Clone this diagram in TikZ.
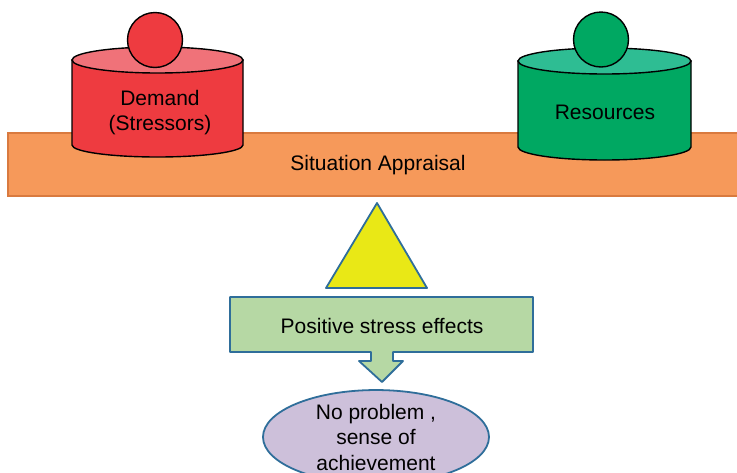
\documentclass[tikz,border=0pt]{standalone}
\usepackage{fontspec}
\setmainfont{Liberation Sans}
\usetikzlibrary{shapes.geometric}
\definecolor{barfill}{HTML}{F6995A}
\definecolor{barline}{HTML}{D97A3F}
\definecolor{redbody}{HTML}{EE3B40}
\definecolor{redtop}{HTML}{F07279}
\definecolor{greenbody}{HTML}{00A862}
\definecolor{greentop}{HTML}{2EBD93}
\definecolor{tryellow}{HTML}{E9E816}
\definecolor{edgeblue}{HTML}{2F6E9A}
\definecolor{boxgreen}{HTML}{B6D8A4}
\definecolor{lilac}{HTML}{CDC0DA}
\tikzset{
  lbl/.style={font=\fontsize{21}{25.5}\selectfont, align=center, inner sep=0pt},
  drum/.style={draw=black, line width=1.4pt},
  blueline/.style={draw=edgeblue, line width=1.8pt, line join=round}
}
\begin{document}
\begin{tikzpicture}[x=1pt,y=1pt]
        \useasboundingbox (0,0) rectangle (737,-472);

        % Situation bar
        \filldraw[fill=barfill, draw=barline, line width=2pt] (8,-133) rectangle (760,-196);
        \node[lbl] (appraisal) at (378,-165) {Situation Appraisal};

        % Demand drum
        \begin{scope}
            \filldraw[drum, fill=redbody] (72,-60) -- (72,-145)
                arc[start angle=180, end angle=360, x radius=85.5, y radius=12]
                -- (243,-60) -- cycle;
            \filldraw[drum, fill=redtop] (157.5,-60) ellipse (85.5 and 13);
            \filldraw[drum, fill=redbody] (155,-40) circle (27.5);
            \node[lbl] (demand) at (160,-112.5) {Demand\\(Stressors)};
        \end{scope}

        % Resources drum
        \begin{scope}
            \filldraw[drum, fill=greenbody] (518,-61) -- (518,-147)
                arc[start angle=180, end angle=360, x radius=86.5, y radius=13]
                -- (691,-61) -- cycle;
            \filldraw[drum, fill=greentop] (604.5,-61) ellipse (86.5 and 13);
            \filldraw[drum, fill=greenbody] (601,-39.5) circle (27.5);
            \node[lbl] (resources) at (605,-112) {Resources};
        \end{scope}

        % Pivot
        \filldraw[blueline, fill=tryellow] (377,-203) -- (427,-288) -- (326,-288) -- cycle;

        % Effects box with arrow
        \filldraw[blueline, fill=boxgreen] (230,-297) -- (533,-297) -- (533,-352)
            -- (393,-352) -- (393,-361) -- (403,-361) -- (382,-382)
            -- (359,-361) -- (371,-361) -- (371,-352) -- (230,-352) -- cycle;
        \node[lbl] (effects) at (382,-326) {Positive stress effects};

        % Outcome
        \node[lbl, ellipse, blueline, fill=lilac, minimum width=226pt,
            minimum height=90pt] (outcome) at (376,-437)
            {No problem ,\\sense of\\achievement};
    \end{tikzpicture}
\end{document}
